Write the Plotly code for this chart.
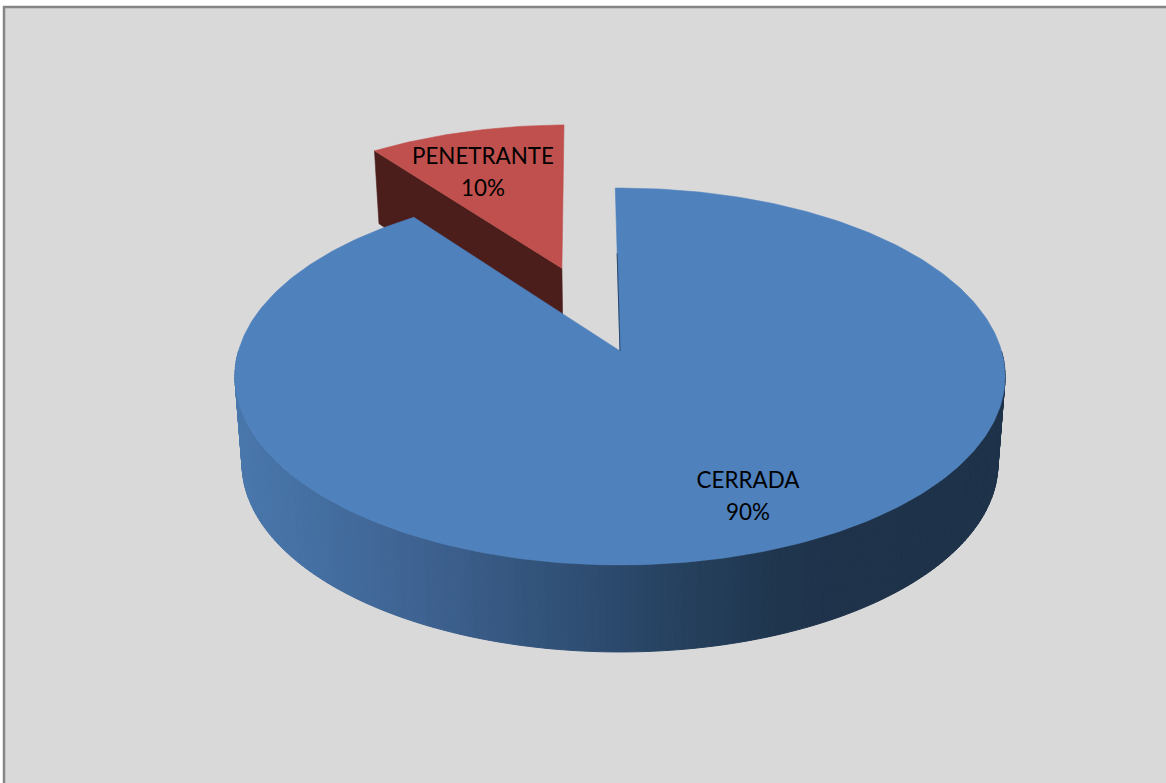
import math
import plotly.graph_objects as go

# Chart data
categories = ["CERRADA", "PENETRANTE"]
values = [90, 10]

# Page and pie geometry, in pixels
WIDTH, HEIGHT = 1166, 783
CX, CY = 620, 351           # centre of the top face
TOP_RX, TOP_RY = 381.5, 185
BOT_RX, BOT_RY = 374.5, 185
BOT_CY = 438
FAR_BOT_RY, FAR_BOT_CY = 191.4, 430.7   # underside of the slice at the back
TILT = 0.1353               # perspective strength along the depth axis
ROTATION = -0.8             # first slice angle, degrees clockwise from 12 o'clock
EXPLODE = 0.503             # offset of the pulled-out slice, in radii
RED_RADIUS = 0.988          # radius of the pulled-out slice after foreshortening

BLUE_TOP = "#4f81bd"
RED_TOP = "#c0504d"
RED_WALL = "#4b1e1c"
BLUE_EDGE = "#2a486c"

# Shading of the rim, from left to right: (screen x, colour)
RIM_X = [235, 300, 420, 540, 620, 700, 780, 860, 1005]
RIM_RGB = [
    (74, 119, 172), (69, 113, 164), (62, 98, 145), (50, 83, 122), (43, 73, 107),
    (36, 62, 90), (31, 53, 78), (30, 50, 73), (30, 50, 73),
]


def project(u, v, top=True, far=False):
    """Perspective projection of a point on the unit disc plane."""
    w = 1 + TILT * v
    if top:
        return CX + TOP_RX * u / w, CY - TOP_RY * v / w
    if far:
        return CX + BOT_RX * u / w, FAR_BOT_CY - FAR_BOT_RY * v / w
    return CX + BOT_RX * u / w, BOT_CY - BOT_RY * v / w


def rim(theta_deg, offset=(0, 0), top=True, far=False, radius=1.0):
    t = math.radians(theta_deg)
    return project(offset[0] + radius * math.sin(t), offset[1] + radius * math.cos(t), top, far)


def rim_colour(x):
    for i in range(len(RIM_X) - 1):
        if x <= RIM_X[i + 1]:
            f = max(0, (x - RIM_X[i]) / (RIM_X[i + 1] - RIM_X[i]))
            a, b = RIM_RGB[i], RIM_RGB[i + 1]
            return "rgb(%d,%d,%d)" % tuple(round(a[k] + (b[k] - a[k]) * f) for k in range(3))
    return "rgb(%d,%d,%d)" % RIM_RGB[-1]


def polygon(points, colour, width=0.6):
    xs, ys = zip(*points)
    return go.Scatter(
        x=list(xs) + [xs[0]], y=list(ys) + [ys[0]], mode="lines",
        fill="toself", fillcolor=colour, line=dict(color=colour, width=width),
        hoverinfo="skip", showlegend=False,
    )


total = sum(values)
sweeps = [360 * v / total for v in values]
blue_start = ROTATION
blue_end = blue_start + sweeps[0]
red_start = blue_end
red_end = red_start + sweeps[1]
red_mid = math.radians((red_start + red_end) / 2)
red_offset = (EXPLODE * math.sin(red_mid), EXPLODE * math.cos(red_mid))

traces = []

# Pulled-out slice: visible cut face, then its top
cut_face = [
    project(*red_offset),
    rim(red_start, red_offset, radius=RED_RADIUS),
    rim(red_start, red_offset, top=False, far=True, radius=RED_RADIUS),
    project(*red_offset, top=False, far=True),
]
traces.append(polygon(cut_face, RED_WALL))
red_arc = [rim(red_start + sweeps[1] * i / 40, red_offset, radius=RED_RADIUS) for i in range(41)]
traces.append(polygon([project(*red_offset)] + red_arc, RED_TOP))

# Rim of the large slice, built from narrow shaded strips
STRIPS = 180
for i in range(STRIPS):
    a = 90 + 180 * i / STRIPS
    b = 90 + 180 * (i + 1) / STRIPS
    quad = [rim(a), rim(b), rim(b, top=False), rim(a, top=False)]
    mid_x = sum(p[0] for p in quad) / 4
    traces.append(polygon(quad, rim_colour(mid_x), width=1))

# Top of the large slice
steps = 360
blue_arc = [rim(blue_start + sweeps[0] * i / steps) for i in range(steps + 1)]
traces.append(polygon([project(0, 0)] + blue_arc, BLUE_TOP))

# Dark sliver along the cut edge facing the gap
edge_end = rim(blue_start)
apex = project(0, 0)
traces.append(go.Scatter(
    x=[apex[0], apex[0] + (edge_end[0] - apex[0]) * 0.6],
    y=[apex[1], apex[1] + (edge_end[1] - apex[1]) * 0.6],
    mode="lines", line=dict(color=BLUE_EDGE, width=1),
    hoverinfo="skip", showlegend=False,
))

# Slice labels: category on one row, percentage below it
label_centres = [(748, 482), (483, 158)]
ROW_GAP = 32
label_x, label_y, label_text = [], [], []
for (lx, ly), name, value in zip(label_centres, categories, values):
    label_x += [lx, lx]
    label_y += [ly, ly + ROW_GAP]
    label_text += [name, f"{round(100 * value / total)}%"]
traces.append(go.Scatter(
    x=label_x, y=label_y, text=label_text, mode="text",
    textposition="middle center",
    textfont=dict(family="Lato", size=22.4, color="#000000"),
    hoverinfo="skip", showlegend=False,
))

fig = go.Figure(traces)
fig.update_layout(
    width=WIDTH, height=HEIGHT, autosize=False,
    margin=dict(l=0, r=0, t=0, b=0),
    paper_bgcolor="#ffffff", plot_bgcolor="#ffffff",
    xaxis=dict(range=[0, WIDTH], visible=False, fixedrange=True),
    yaxis=dict(range=[HEIGHT, 0], visible=False, fixedrange=True),
    shapes=[dict(
        type="rect", layer="below", xref="x", yref="y",
        x0=4, y0=7, x1=WIDTH + 10, y1=HEIGHT + 10,
        fillcolor="#d9d9d9", line=dict(color="#868686", width=2.5),
    )],
)
fig.write_html("out.html", config=dict(displayModeBar=False))
